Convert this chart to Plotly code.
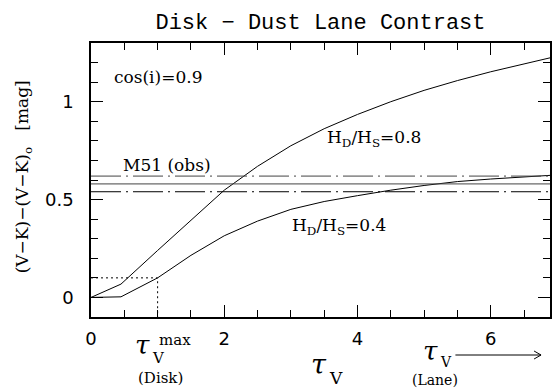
import plotly.graph_objects as go

# ---- data ----
tau_v = [0, 0.45, 1.0, 1.5, 2.0, 2.5, 3.0, 3.5, 4.0, 4.5, 5.0, 5.5, 6.0, 6.5, 7.0]
contrast_hd08 = [0.0, 0.068, 0.24, 0.395, 0.548, 0.67, 0.775, 0.862, 0.935, 1.0, 1.058, 1.108, 1.153, 1.193, 1.233]
contrast_hd04 = [0.0, 0.003, 0.10, 0.215, 0.315, 0.39, 0.45, 0.49, 0.52, 0.548, 0.572, 0.592, 0.605, 0.615, 0.626]
m51_levels = [0.62, 0.58, 0.54]
disk_tau_max = 1.0
disk_contrast = 0.1
x_range = [0, 6.89]
y_range = [-0.1, 1.3]
x_tickvals = [0, 2, 4, 6]
x_ticktext = ["0", "2", "4", "6"]
y_tickvals = [0, 0.5, 1]
y_ticktext = ["0", "0.5", "1"]

W, H = 553, 388
ML, MR, MT, MB = 91, 1, 43, 71
PW, PH = W - ML - MR, H - MT - MB

SERIF = "DejaVu Serif"
SANS = "DejaVu Sans"

fig = go.Figure()

fig.add_trace(go.Scatter(x=tau_v, y=contrast_hd08, mode="lines",
                         line=dict(color="black", width=1), showlegend=False))
fig.add_trace(go.Scatter(x=tau_v, y=contrast_hd04, mode="lines",
                         line=dict(color="black", width=1), showlegend=False))

DASHDOT = "30px,5px,2px,5px"
m51_styles = [dict(color="#444444", width=1, dash=DASHDOT),
              dict(color="#444444", width=1),
              dict(color="black", width=1, dash=DASHDOT)]
for lvl, st in zip(m51_levels, m51_styles):
    fig.add_trace(go.Scatter(x=[tau_v[0], tau_v[-1]], y=[lvl, lvl], mode="lines",
                             line=st, showlegend=False))

# dotted guide lines
fig.add_trace(go.Scatter(x=[0, disk_tau_max, disk_tau_max], y=[disk_contrast, disk_contrast, y_range[0]],
                         mode="lines", line=dict(color="black", width=1, dash="2px,3px"),
                         showlegend=False))

def px2paper(px, py):
    return (px - ML) / PW, (H - MB - py) / PH

ann = []
def add_text(text, px, py, size, xanchor="center", yanchor="middle", font=SERIF, italic=False):
    xp, yp = px2paper(px, py)
    ann.append(dict(text=text, x=xp, y=yp, xref="paper", yref="paper", showarrow=False,
                    xanchor=xanchor, yanchor=yanchor,
                    font=dict(family=font, size=size, color="black",
                              style="italic" if italic else "normal")))

# in-plot labels (data coordinates)
def add_data_text(text, x, y, size):
    ann.append(dict(text=text, x=x, y=y, xref="x", yref="y", showarrow=False,
                    xanchor="left", yanchor="middle",
                    font=dict(family=SERIF, size=size, color="black")))

add_data_text("cos(i)=0.9", 0.32, 1.124, 17)
add_data_text("M51 (obs)", 0.45, 0.677, 17)
add_data_text("H<sub>D</sub>/H<sub>S</sub>=0.8", 3.51, 0.81, 17)
add_data_text("H<sub>D</sub>/H<sub>S</sub>=0.4", 2.99, 0.36, 17)

# below-axis labels
add_text("τ", 143, 345, 26, italic=True)
add_text("V", 159, 358, 15)
add_text("max", 175, 340, 15)
add_text("(Disk)", 161, 378, 15)
add_text("τ", 320, 364, 27, italic=True)
add_text("V", 337, 378, 17)
add_text("τ", 432, 351, 26, italic=True)
add_text("V", 448, 362, 14)
add_text("(Lane)", 437, 380, 14)

# y-axis title
add_text("(V−K)−(V−K)<sub>o</sub>\u00a0\u00a0\u00a0[mag]", 23, 177, 17)
ann[-1]["textangle"] = -90

shapes = []
def seg(x0, y0, x1, y1):
    a, b = px2paper(x0, y0)
    c, d = px2paper(x1, y1)
    shapes.append(dict(type="line", xref="paper", yref="paper", x0=a, y0=b, x1=c, y1=d,
                       line=dict(color="black", width=1)))
seg(457, 355, 543, 355)
seg(536, 351, 543, 355)
seg(536, 359, 543, 355)

fig.update_layout(
    width=W, height=H,
    margin=dict(l=ML, r=MR, t=MT, b=MB),
    paper_bgcolor="white", plot_bgcolor="white",
    title=dict(text="Disk − Dust Lane Contrast", x=0.5, xref="paper", xanchor="center",
               y=1 - 21 / H, yref="container", yanchor="middle",
               font=dict(family="Liberation Mono", size=22, color="black")),
    annotations=ann, shapes=shapes,
    xaxis=dict(range=x_range, showgrid=False, zeroline=False, showline=True,
               linecolor="black", linewidth=1.5, mirror="allticks",
               ticks="inside", ticklen=12, tickwidth=1, tickcolor="black",
               tickvals=x_tickvals, ticktext=x_ticktext, ticklabelstandoff=5,
               tickfont=dict(family=SANS, size=18, color="black"),
               minor=dict(ticks="inside", ticklen=7, dtick=0.5, tickcolor="black", showgrid=False)),
    yaxis=dict(range=y_range, showgrid=False, zeroline=False, showline=True,
               linecolor="black", linewidth=1.5, mirror="allticks",
               ticks="inside", ticklen=12, tickwidth=1, tickcolor="black",
               tickvals=y_tickvals, ticktext=y_ticktext, ticklabelstandoff=12,
               tickfont=dict(family=SANS, size=18, color="black"),
               minor=dict(ticks="inside", ticklen=7, dtick=0.1, tick0=0, tickcolor="black", showgrid=False)),
)

fig.write_html("out.html")
